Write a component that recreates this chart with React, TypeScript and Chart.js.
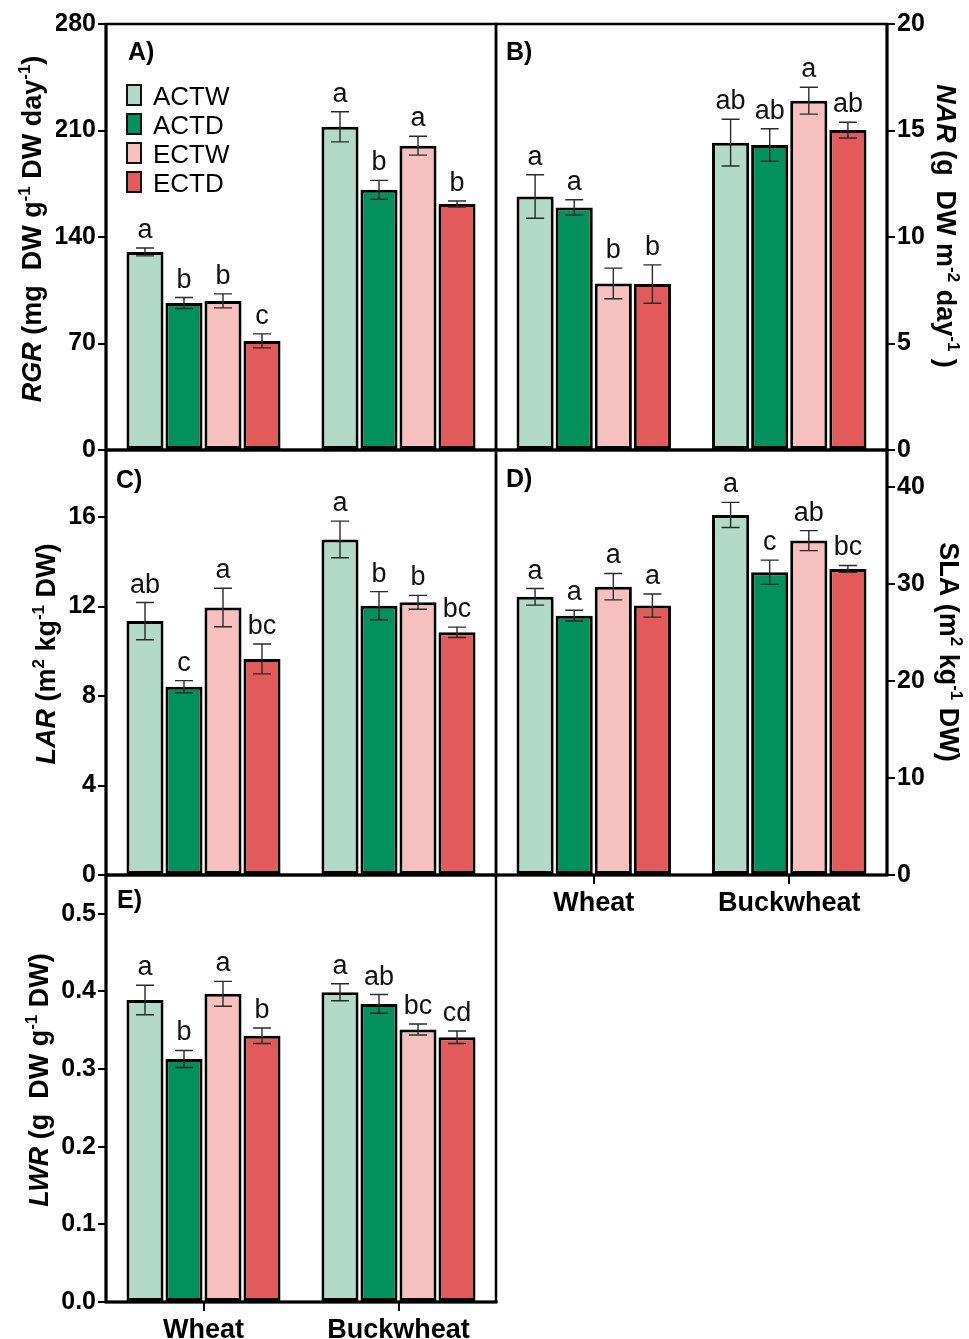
import React, { useEffect, useRef } from 'react';
import { Chart, registerables } from 'chart.js';
Chart.register(...registerables);

const W = 969;
const H = 1339;
const FONT = '"Liberation Sans", Arial, sans-serif';
Chart.defaults.font.family = FONT;

// ---------- data ----------
const categories = ['Wheat', 'Buckwheat'];
const treatments = ['ACTW', 'ACTD', 'ECTW', 'ECTD'];
const fillColors = ['#b3dac8', '#00915f', '#f5c0be', '#e35a5a'];

// rows = treatments (ACTW, ACTD, ECTW, ECTD); columns = categories (Wheat, Buckwheat)
const rgrMeans = [[130.2, 212.4], [96.6, 171.0], [98.0, 200.0], [71.7, 161.7]];
const rgrErrors = [[2.6, 9.9], [3.6, 6.2], [4.6, 6.2], [4.6, 2.0]];
const rgrLetters = [['a', 'a'], ['b', 'b'], ['b', 'a'], ['c', 'b']];
const rgrTicks = [0, 70, 140, 210, 280];

const narMeans = [[11.9, 14.43], [11.39, 14.32], [7.82, 16.4], [7.79, 15.02]];
const narErrors = [[1.02, 1.1], [0.36, 0.76], [0.72, 0.63], [0.9, 0.37]];
const narLetters = [['a', 'ab'], ['a', 'ab'], ['b', 'a'], ['b', 'ab']];
const narTicks = [0, 5, 10, 15, 20];

const larMeans = [[11.35, 15.0], [8.42, 12.04], [11.96, 12.19], [9.66, 10.85]];
const larErrors = [[0.83, 0.82], [0.27, 0.63], [0.86, 0.31], [0.67, 0.23]];
const larLetters = [['ab', 'a'], ['c', 'b'], ['a', 'b'], ['bc', 'bc']];
const larTicks = [0, 4, 8, 12, 16];

const slaMeans = [[28.7, 37.15], [26.76, 31.24], [29.75, 34.5], [27.8, 31.58]];
const slaErrors = [[0.86, 1.3], [0.55, 1.25], [1.36, 1.03], [1.19, 0.36]];
const slaLetters = [['a', 'a'], ['a', 'c'], ['a', 'ab'], ['a', 'bc']];
const slaTicks = [0, 10, 20, 30, 40];

const lwrMeans = [[0.389, 0.399], [0.313, 0.384], [0.397, 0.351], [0.343, 0.341]];
const lwrErrors = [[0.019, 0.011], [0.011, 0.012], [0.016, 0.007], [0.010, 0.008]];
const lwrLetters = [['a', 'a'], ['b', 'ab'], ['a', 'bc'], ['b', 'cd']];
const lwrTicks = [0, 0.1, 0.2, 0.3, 0.4, 0.5];

type Seg = { t: string; i?: boolean; sup?: boolean };

const panels: any[] = [
  {
    id: 'A)', means: rgrMeans, errors: rgrErrors, letters: rgrLetters, ticks: rgrTicks, max: 280,
    side: 'left', area: { l: 106, r: 496, t: 24, b: 450 }, xLabels: false, legend: true,
    fmt: (v: number) => String(v), label: { x: 128, y: 60 },
    title: [{ t: 'RGR', i: true }, { t: ' (mg  DW g' }, { t: '-1', sup: true }, { t: ' DW day' }, { t: '-1', sup: true }, { t: ')' }],
    titlePos: { x: 41, y: 229, rot: -Math.PI / 2 },
  },
  {
    id: 'B)', means: narMeans, errors: narErrors, letters: narLetters, ticks: narTicks, max: 20,
    side: 'right', area: { l: 496, r: 887, t: 24, b: 450 }, xLabels: false, legend: false,
    fmt: (v: number) => String(v), label: { x: 506, y: 60 },
    title: [{ t: 'NAR', i: true }, { t: ' (g  DW m' }, { t: '-2', sup: true }, { t: ' day' }, { t: '-1', sup: true }, { t: ' )' }],
    titlePos: { x: 937, y: 226, rot: Math.PI / 2 },
  },
  {
    id: 'C)', means: larMeans, errors: larErrors, letters: larLetters, ticks: larTicks, max: 19,
    side: 'left', area: { l: 106, r: 496, t: 450, b: 875 }, xLabels: false, legend: false,
    fmt: (v: number) => String(v), label: { x: 116, y: 488 },
    title: [{ t: 'LAR', i: true }, { t: ' (m' }, { t: '2', sup: true }, { t: ' kg' }, { t: '-1', sup: true }, { t: ' DW)' }],
    titlePos: { x: 55, y: 654, rot: -Math.PI / 2 },
  },
  {
    id: 'D)', means: slaMeans, errors: slaErrors, letters: slaLetters, ticks: slaTicks, max: 43.85,
    side: 'right', area: { l: 496, r: 887, t: 450, b: 875 }, xLabels: true, legend: false,
    fmt: (v: number) => String(v), label: { x: 506, y: 487 },
    title: [{ t: 'SLA' }, { t: ' (m' }, { t: '2', sup: true }, { t: ' kg' }, { t: '-1', sup: true }, { t: ' DW)' }],
    titlePos: { x: 940, y: 652, rot: Math.PI / 2 },
  },
  {
    id: 'E)', means: lwrMeans, errors: lwrErrors, letters: lwrLetters, ticks: lwrTicks, max: 0.55,
    side: 'left', area: { l: 106, r: 496, t: 875, b: 1302 }, xLabels: true, legend: false,
    fmt: (v: number) => v.toFixed(1), label: { x: 117, y: 908 },
    title: [{ t: 'LWR', i: true }, { t: ' (g  DW g' }, { t: '-1', sup: true }, { t: ' DW)' }],
    titlePos: { x: 48, y: 1080, rot: -Math.PI / 2 },
  },
];

function drawRich(ctx: CanvasRenderingContext2D, segs: Seg[], cx: number, cy: number, rot: number, size: number) {
  ctx.save();
  ctx.translate(cx, cy);
  ctx.rotate(rot);
  const fontFor = (s: Seg) => `${s.i ? 'italic ' : ''}bold ${s.sup ? Math.round(size * 0.62) : size}px ${FONT}`;
  let total = 0;
  segs.forEach((s) => { ctx.font = fontFor(s); total += ctx.measureText(s.t).width; });
  let x = -total / 2;
  ctx.textAlign = 'left';
  ctx.textBaseline = 'alphabetic';
  ctx.fillStyle = '#000';
  segs.forEach((s) => {
    ctx.font = fontFor(s);
    ctx.fillText(s.t, x, s.sup ? -size * 0.42 : 0);
    x += ctx.measureText(s.t).width;
  });
  ctx.restore();
}

function makeChart(canvas: HTMLCanvasElement, p: any) {
  const yAxisWidth = 50;
  const xAxisHeight = p.xLabels ? Math.min(40, H - p.area.b) : 0;
  const padding = {
    left: p.side === 'left' ? p.area.l - yAxisWidth : p.area.l,
    right: p.side === 'right' ? W - p.area.r - yAxisWidth : W - p.area.r,
    top: p.area.t,
    bottom: H - p.area.b - xAxisHeight,
  };
  const datasets = treatments.map((name, k) => ({
    label: name,
    data: p.means[k],
    backgroundColor: fillColors[k],
    borderColor: '#000',
    borderWidth: 3,
    borderSkipped: false,
    categoryPercentage: 0.8,
    barPercentage: 0.95,
  }));

  const deco = {
    id: 'deco' + p.id,
    afterDatasetsDraw(chart: any) {
      const ctx = chart.ctx as CanvasRenderingContext2D;
      const yScale = chart.scales.y;
      ctx.save();
      chart.data.datasets.forEach((_ds: any, k: number) => {
        const meta = chart.getDatasetMeta(k);
        meta.data.forEach((bar: any, j: number) => {
          const m = p.means[k][j];
          const e = p.errors[k][j];
          const x = bar.x;
          const yTop = yScale.getPixelForValue(m + e);
          const yBot = yScale.getPixelForValue(m - e);
          ctx.strokeStyle = '#2a2a2a';
          ctx.lineWidth = 1.4;
          ctx.beginPath();
          ctx.moveTo(x, yTop); ctx.lineTo(x, yBot);
          ctx.moveTo(x - 9, yTop); ctx.lineTo(x + 9, yTop);
          ctx.moveTo(x - 9, yBot); ctx.lineTo(x + 9, yBot);
          ctx.stroke();
          ctx.fillStyle = '#111';
          ctx.font = `27px ${FONT}`;
          ctx.textAlign = 'center';
          ctx.textBaseline = 'alphabetic';
          ctx.fillText(p.letters[k][j], x, yTop - 10);
        });
      });
      ctx.restore();
    },
    afterDraw(chart: any) {
      const ctx = chart.ctx as CanvasRenderingContext2D;
      const a = chart.chartArea;
      ctx.save();
      ctx.strokeStyle = '#000';
      ctx.lineWidth = 2.5;
      ctx.strokeRect(a.left, a.top, a.right - a.left, a.bottom - a.top);
      ctx.lineWidth = 3;
      ctx.beginPath();
      const ax = p.side === 'left' ? a.left : a.right;
      ctx.moveTo(ax, a.top); ctx.lineTo(ax, a.bottom);
      ctx.moveTo(a.left - 1.5, a.bottom); ctx.lineTo(a.right + 1.5, a.bottom);
      ctx.stroke();
      // panel label
      ctx.fillStyle = '#000';
      ctx.font = `bold 25px ${FONT}`;
      ctx.textAlign = 'left';
      ctx.textBaseline = 'alphabetic';
      ctx.fillText(p.id, p.label.x, p.label.y);
      // legend
      if (p.legend) {
        chart.data.datasets.forEach((ds: any, k: number) => {
          const top = 84 + k * 29;
          ctx.fillStyle = ds.backgroundColor;
          ctx.fillRect(126, top, 16, 22);
          ctx.strokeStyle = '#111';
          ctx.lineWidth = 2;
          ctx.strokeRect(127, top + 1, 14, 20);
          ctx.fillStyle = '#000';
          ctx.font = `26px ${FONT}`;
          ctx.fillText(ds.label, 153, top + 21);
        });
      }
      drawRich(ctx, p.title, p.titlePos.x, p.titlePos.y, p.titlePos.rot, 27);
      ctx.restore();
    },
  };

  return new Chart(canvas, {
    type: 'bar',
    data: { labels: categories, datasets },
    options: {
      responsive: false,
      animation: false,
      devicePixelRatio: 1,
      layout: { padding },
      plugins: { legend: { display: false }, tooltip: { enabled: false }, title: { display: false } },
      scales: {
        x: {
          display: p.xLabels,
          offset: true,
          afterFit: (s: any) => { s.height = xAxisHeight; },
          ticks: { font: { size: 27, weight: 'bold' }, color: '#000', padding: 3, maxRotation: 0, autoSkip: false },
          grid: { display: true, offset: false, drawOnChartArea: false, drawTicks: true, tickLength: 9, color: '#000', lineWidth: 2 },
          border: { display: false },
        },
        y: {
          type: 'linear',
          position: p.side,
          min: 0,
          max: p.max,
          afterBuildTicks: (s: any) => { s.ticks = p.ticks.map((v: number) => ({ value: v })); },
          afterFit: (s: any) => { s.width = yAxisWidth; },
          ticks: { font: { size: 25, weight: 'bold' }, color: '#000', padding: 2, callback: (v: any) => p.fmt(Number(v)) },
          grid: { display: true, drawOnChartArea: false, drawTicks: true, tickLength: 8, color: '#000', lineWidth: 2 },
          border: { display: false },
        },
      },
    },
    plugins: [deco],
  } as any);
}

function Panel({ p }: { p: any }) {
  const ref = useRef<HTMLCanvasElement>(null);
  useEffect(() => {
    const chart = makeChart(ref.current as HTMLCanvasElement, p);
    return () => chart.destroy();
  }, [p]);
  return (
    <canvas
      ref={ref}
      width={W}
      height={H}
      style={{ position: 'absolute', left: 0, top: 0, width: W, height: H }}
    />
  );
}

export default function App() {
  return (
    <div style={{ position: 'absolute', left: 0, top: 0, width: W, height: H, background: '#fff', overflow: 'hidden' }}>
      {panels.map((p) => (
        <Panel key={p.id} p={p} />
      ))}
    </div>
  );
}
